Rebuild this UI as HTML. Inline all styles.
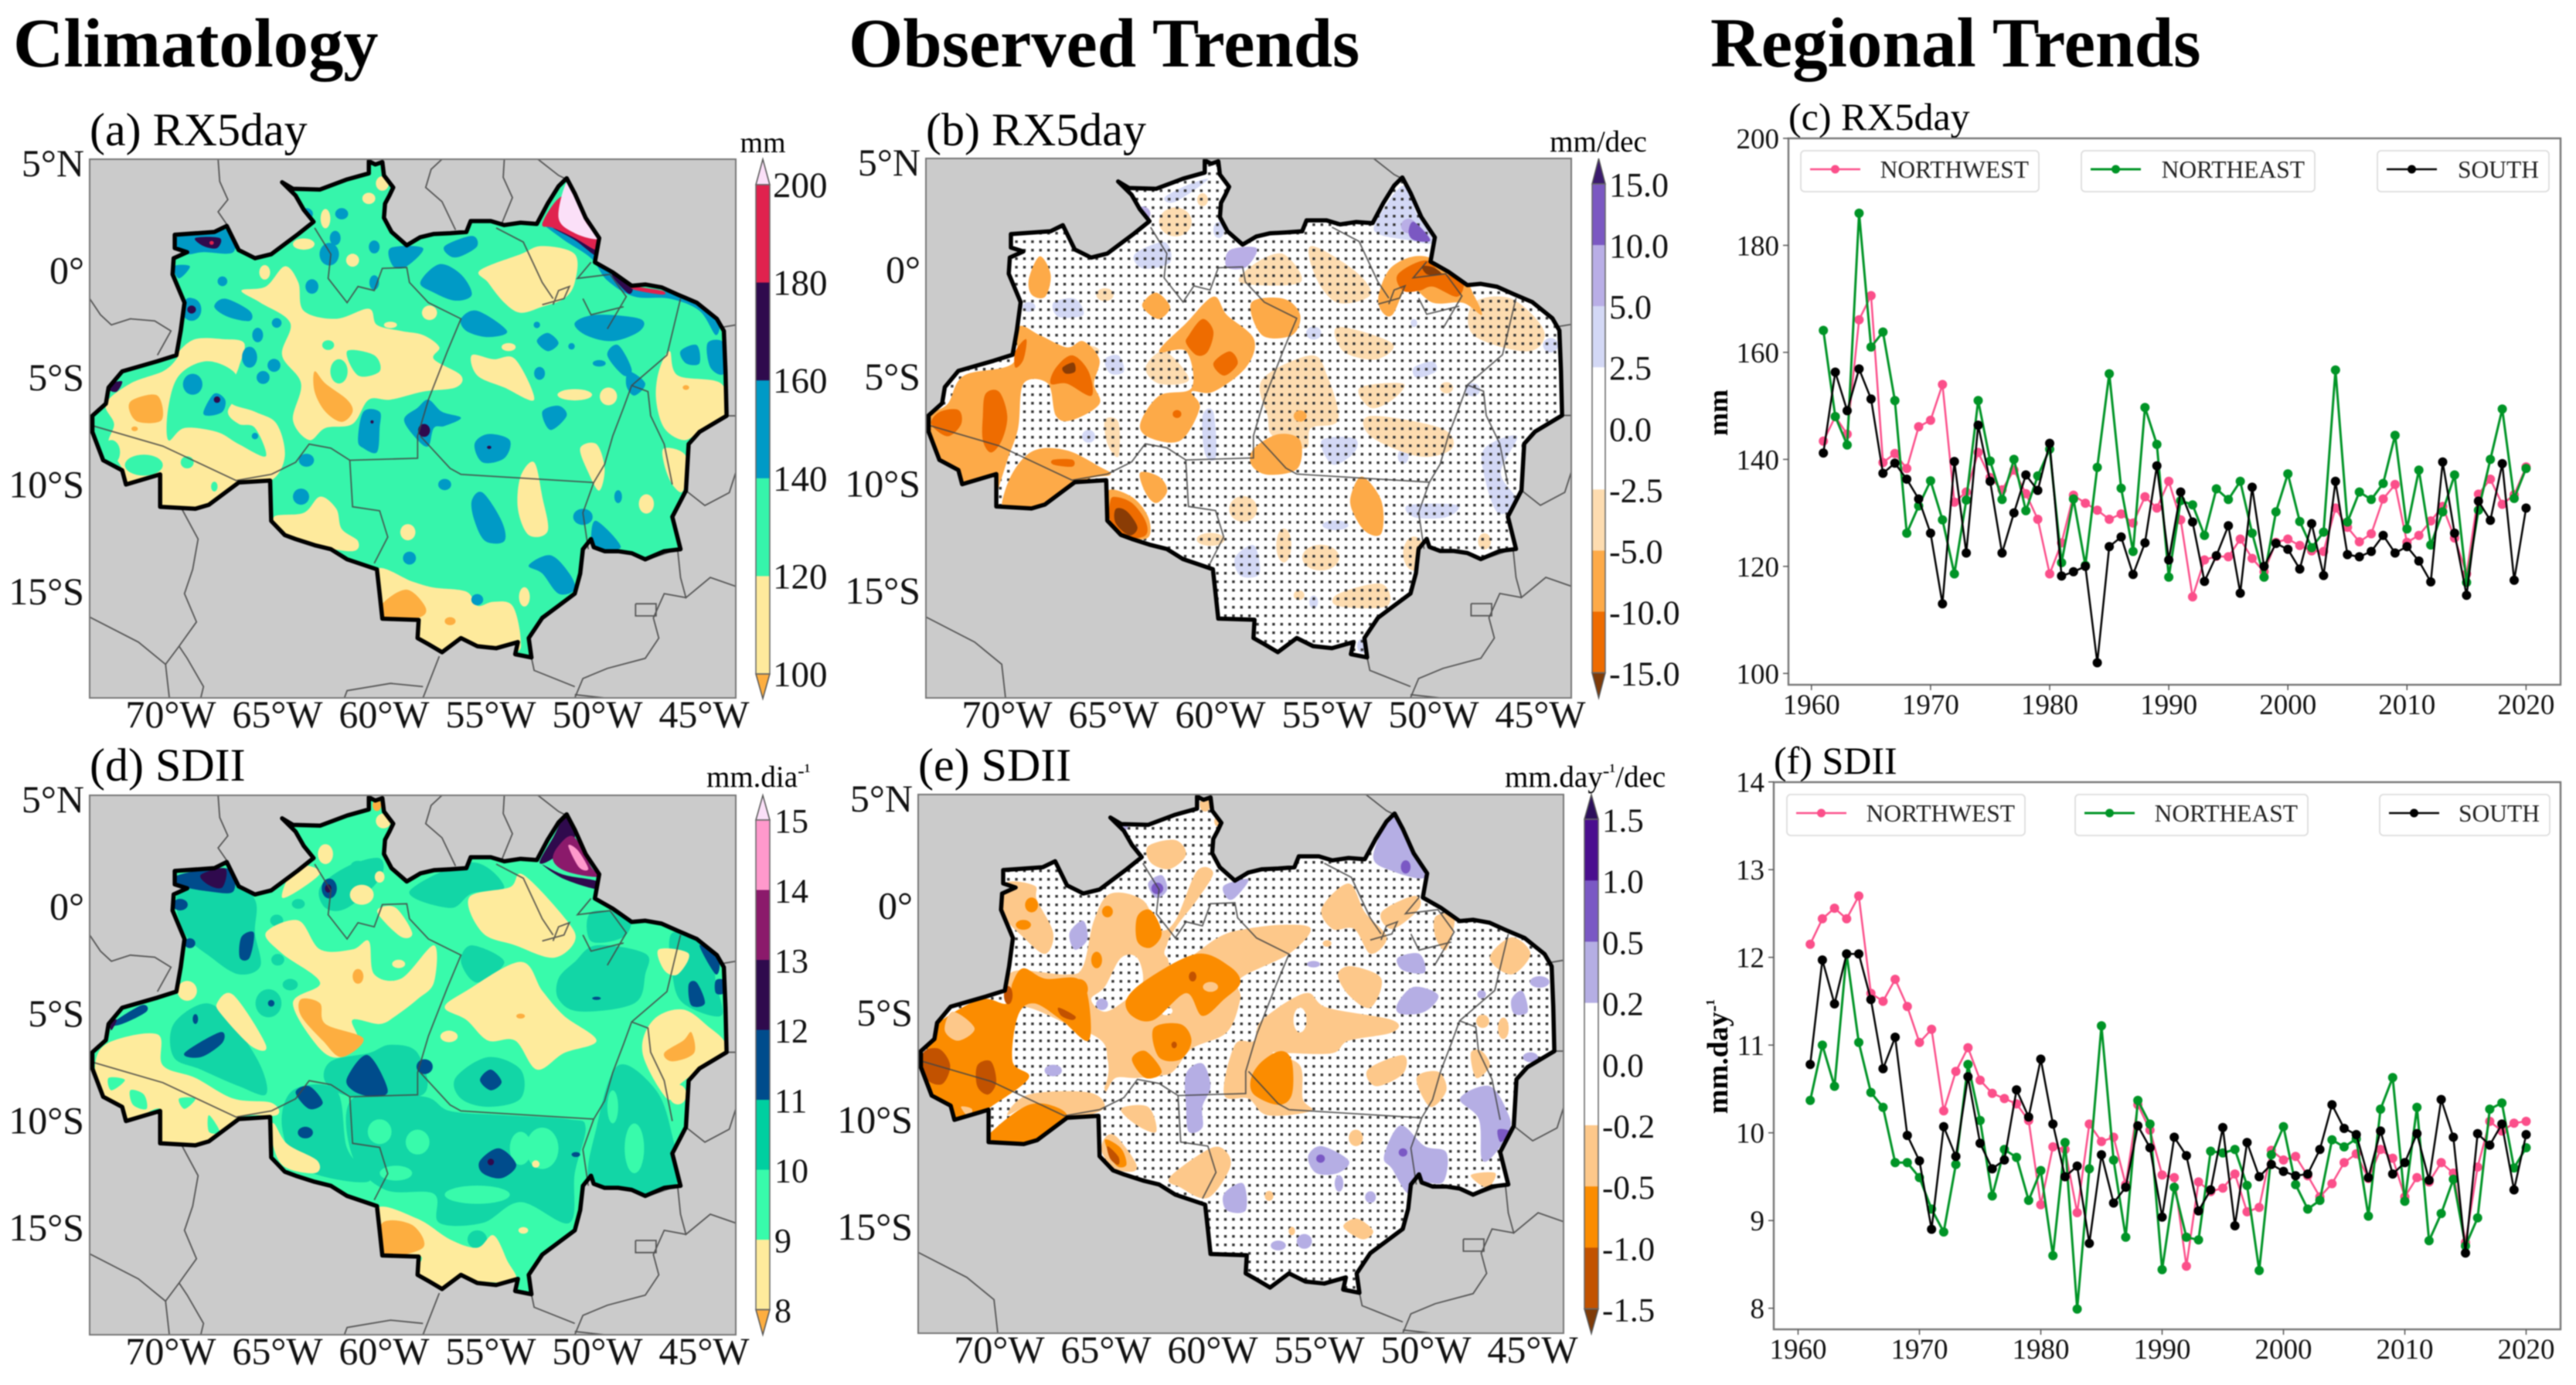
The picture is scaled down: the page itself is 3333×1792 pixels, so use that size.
<!DOCTYPE html>
<html lang="en">
<head>
<meta charset="utf-8">
<title>Climatology, observed trends and regional trends</title>
<style>
html,body{margin:0;padding:0;background:#fff;}
svg{display:block;font-family:"Liberation Serif",serif;filter:blur(0.7px);}
</style>
</head>
<body>
<svg id="figure" xmlns="http://www.w3.org/2000/svg" width="3333" height="1792" viewBox="0 0 3333 1792">
<defs>
<pattern id="stipple" patternUnits="userSpaceOnUse" width="10.4" height="11"><rect x="3" y="3" width="3.4" height="3.4" fill="#333"/></pattern>
<pattern id="stippleWhite" patternUnits="userSpaceOnUse" width="10.4" height="11"><rect width="10.4" height="11" fill="#fff"/><rect x="3" y="3" width="3.4" height="3.4" fill="#333"/></pattern>
</defs>
<rect width="3333" height="1792" fill="#fff"/>
<text x="17" y="86" font-size="90.5" font-weight="bold">Climatology</text>
<text x="1098" y="86" font-size="90.5" font-weight="bold">Observed Trends</text>
<text x="2213" y="86" font-size="91" font-weight="bold">Regional Trends</text>
<text x="116" y="188" font-size="60">(a) RX5day</text>
<text x="1198" y="188" font-size="60">(b) RX5day</text>
<text x="116" y="1010" font-size="60">(d) SDII</text>
<text x="1188" y="1010" font-size="60">(e) SDII</text>
<text x="2314" y="168" font-size="50">(c) RX5day</text>
<text x="2295" y="1001" font-size="50">(f) SDII</text>
<text x="987" y="197" font-size="38" text-anchor="middle">mm</text>
<text x="2068" y="196" font-size="39" text-anchor="middle">mm/dec</text>
<text x="914" y="1018" font-size="39">mm.dia<tspan font-size="26" dy="-12">-¹</tspan></text>
<text x="1947" y="1018" font-size="39">mm.day<tspan font-size="26" dy="-12">-¹</tspan><tspan dy="12">/dec</tspan></text>
<text transform="translate(2235,534) rotate(-90)" font-size="36" font-weight="bold" text-anchor="middle">mm</text>
<text transform="translate(2235,1367) rotate(-90)" font-size="38" font-weight="bold" text-anchor="middle">mm.day<tspan font-size="26" dy="-10">-¹</tspan></text>
</svg>
<script>
/* ---------- line chart data ---------- */
const years=[1961,1962,1963,1964,1965,1966,1967,1968,1969,1970,1971,1972,1973,1974,1975,1976,1977,1978,1979,1980,1981,1982,1983,1984,1985,1986,1987,1988,1989,1990,1991,1992,1993,1994,1995,1996,1997,1998,1999,2000,2001,2002,2003,2004,2005,2006,2007,2008,2009,2010,2011,2012,2013,2014,2015,2016,2017,2018,2019,2020];
const xTickLabels=[1960,1970,1980,1990,2000,2010,2020];
const rxTickLabels=[100,120,140,160,180,200];
const sdiiTickLabels=[8,9,10,11,12,13,14];
const seriesNames=['NORTHWEST','NORTHEAST','SOUTH'];
const rxNorthwest=[143.4,148,144.7,166.1,170.6,139.4,141.1,138.3,146.1,147.3,154,132,133.9,141.3,136.6,134.3,138,133.6,128.8,118.6,124.4,133.3,131.8,130.5,128.8,129.8,128.1,133,130.9,135.9,128.7,114.3,121.2,121.9,121.8,125.1,121.5,119,124.5,125.1,123.9,122.9,122.8,130.9,127.3,124.6,126.1,132.6,135.3,124.5,125.8,128.5,131.2,125.3,118.6,133.5,136.3,131.6,133.4,138.6];
const rxNortheast=[164.1,148,142.7,186,161,163.8,151,126.2,131.3,136,128.7,118.6,132.4,151,139.7,132.5,140,130.4,136.9,141.9,120.7,132.6,120.2,138.5,156,134.6,122.8,149.7,142.8,118,132.3,131.5,125.8,134.5,132.5,135.9,126.2,118,130.2,137.3,128.4,123.5,126.4,156.7,128.3,133.9,132.5,135.5,144.5,127,138,124,130.2,137.1,117,130.5,140,149.4,132.7,138.3];
const rxSouth=[141.2,156.3,149.1,156.9,151.3,137.4,139.3,136.3,132.6,126.2,113,139.6,122.5,146.4,135.9,122.5,130,137.1,134.2,143,118.2,119,120,102,123.7,125.5,118.5,124.4,138.8,121.2,133.9,128.3,117.2,122,127.6,115,134.8,120,124.3,123.2,119.5,128,118.3,135.9,122.2,121.8,122.8,125.8,122.5,123.7,121,117.1,139.5,126.2,114.6,132.2,128.6,139.2,117.4,130.9];
const sdiiNorthwest=[12.15,12.44,12.56,12.44,12.7,11.59,11.5,11.75,11.44,11.03,11.18,10.25,10.7,10.97,10.6,10.45,10.39,10.33,10.14,9.18,9.84,9.81,9.09,10.1,9.9,9.95,9.41,10.32,10.03,9.52,9.49,8.48,9.44,9.33,9.37,9.53,9.1,9.15,9.8,9.69,9.73,9.51,9.27,9.42,9.66,9.76,9.48,9.81,9.71,9.27,9.49,9.44,9.66,9.54,8.75,9.61,10.13,10.02,10.11,10.13];
const sdiiNortheast=[10.37,11,10.53,12.04,11.03,10.46,10.29,9.66,9.66,9.49,9.13,8.87,9.64,10.78,10.14,9.28,9.81,9.72,9.23,9.57,8.6,9.89,7.99,9.59,11.22,9.69,8.81,10.37,10.1,8.44,9.38,8.81,8.78,9.79,9.77,9.81,9.4,8.43,9.75,10.07,9.41,9.13,9.23,9.92,9.84,9.93,9.05,10.27,10.63,9.22,10.29,8.77,9.08,9.47,8.71,9.03,10.27,10.34,9.6,9.83];
const sdiiSouth=[10.78,11.97,11.47,12.04,12.04,11.52,10.73,11.09,9.97,9.68,8.9,10.07,9.73,10.64,9.88,9.59,9.69,10.49,10.18,10.84,10.1,9.5,9.62,8.74,9.75,9.2,9.38,10.08,9.83,9.04,9.95,9.74,9.11,9.35,10.06,8.94,9.89,9.5,9.64,9.56,9.51,9.53,9.81,10.32,10.05,9.98,9.49,10.02,9.53,9.66,9.99,9.46,10.38,9.95,8.63,9.99,9.86,10.1,9.35,9.98];

/* ---------- colour bar levels ---------- */
const levelsA=['200','180','160','140','120','100'];
const levelsB=['15.0','10.0','5.0','2.5','0.0','-2.5','-5.0','-10.0','-15.0'];
const levelsD=['15','14','13','12','11','10','9','8'];
const levelsE=['1.5','1.0','0.5','0.2','0.0','-0.2','-0.5','-1.0','-1.5'];
const swatchesA=['#fbe0f8','#e0224e','#2f0a4d','#009ac6','#36f5ab','#feea9c','#fdae40'];
const swatchesB=['#3b1a6e','#7b58c2','#b9aee6','#d3d8f5','#ffffff','#ffffff','#fddcb0','#fdaa48','#ee6c00','#7f3b08'];
const swatchesD=['#fbe0f8','#ff99cc','#8b1a6b','#2f0a4d','#004c8c','#00cfa0','#38fbab','#feeb9c','#fdae40'];
const swatchesE=['#2d0f5c','#4a0e8f','#7a58c4','#b5aee4','#ffffff','#ffffff','#fdc88a','#fb8c00','#c25200','#7f3b08'];

/* ---------- map geography (map-grid units) ---------- */
const latLabels=[['5°N',5],['0°',0],['5°S',-5],['10°S',-10],['15°S',-15]];
const lonLabels=[['70°W',-70],['65°W',-65],['60°W',-60],['55°W',-55],['50°W',-50],['45°W',-45]];
const amazonOutline=[680,170,692,178,705,172,708,205,725,235,718,255,710,275,708,310,722,345,750,378,775,358,800,350,830,348,860,345,868,318,905,318,930,328,960,322,990,325,1010,275,1030,232,1045,212,1060,250,1080,310,1105,360,1097,420,1130,445,1165,478,1190,475,1220,482,1250,500,1285,520,1322,560,1335,590,1338,690,1340,800,1290,840,1270,870,1265,985,1240,1050,1255,1130,1225,1135,1190,1155,1165,1140,1140,1135,1115,1135,1095,1125,1090,1105,1075,1130,1070,1190,1060,1240,1030,1270,1000,1300,975,1350,980,1398,950,1390,955,1360,915,1375,880,1370,850,1350,815,1385,790,1365,770,1350,772,1305,705,1302,700,1240,695,1180,640,1155,610,1130,580,1120,545,1105,525,1095,500,1060,498,960,440,965,385,1020,360,1030,295,1025,295,945,232,970,225,935,190,910,170,840,170,800,195,770,200,730,225,690,290,665,325,650,333,590,340,520,318,450,320,410,345,395,322,385,322,352,395,345,418,330,440,390,470,410,500,400,550,350,578,320,560,290,545,255,520,222,540,238,590,240,640,215,680,200];
const bordersAll=[[992,165,1030,205,1045,215],[165,1298,255,1360,305,1415,312,1498],[1357,575,1335,580],[1340,800,1357,800],[1357,940,1345,990,1300,1022,1265,985],[1250,1135,1255,1200,1265,1250,1310,1200,1357,1222],[1195,1155,1250,1130],[1265,1250,1225,1240,1205,1300,1215,1350,1190,1400,1120,1425,1075,1450,1060,1498],[980,1398,985,1430,1060,1470],[1172,1265,1210,1265,1210,1295,1172,1295,1172,1265],[1060,1490,1115,1498]];
const bordersClimatology=[[402,165,405,220,420,265,402,295,420,330],[815,165,795,190,785,235,815,270,840,340],[930,165,928,210,945,260,925,325],[165,510,185,550,205,575,240,560,285,565,315,590,290,650],[335,1030,365,1105,355,1180,340,1240,362,1310,330,1370,305,1415],[330,1370,345,1400,375,1470,370,1498],[810,1395,780,1498],[635,1498,640,1480,720,1462,780,1470]];
const stateLines=[[172,825,300,875,435,960,500,945],[580,335,610,400,605,460,640,520,660,480,690,490,705,435,750,433,755,470,790,520,850,560,825,640,790,760,770,850,770,905,645,910,610,880,570,870,545,915,500,945],[645,910,650,1025,700,1035,715,1100,690,1165],[775,850,830,930,850,945,1095,965,1115,920,1130,850,1150,780,1165,725,1230,650,1255,510],[1095,965,1075,1040,1085,1130],[1165,725,1195,740,1200,800,1225,870,1240,970],[915,335,965,370,1000,470,1020,510],[1000,525,1040,510,1050,480,1030,490,1020,525],[1090,420,1065,460,1125,450,1155,505,1120,585],[1075,510,1090,550,1150,530]];

/* contour layers, grid units of each panel: [colour, blobs, spots] */
const layersA=[
['#feea9c',[[445,490,490,480,525,430,550,470,560,540,620,560,680,535,695,575,740,590,780,600,810,630,800,660,850,700,840,730,780,740,720,760,680,760,650,820,600,830,570,860,540,810,555,720,520,650,535,570,480,520],
[330,640,360,610,410,610,450,620,440,680,420,760,470,790,510,820,525,900,500,960,440,965,385,1020,300,1025,295,945,235,970,225,930,200,870,210,820,195,770,240,720,300,690,325,660],
[885,440,960,400,1000,380,1060,400,1060,470,1040,510,1000,530,960,545,930,520,900,470],
[870,650,910,660,950,660,985,760,930,730,880,700],
[695,1180,760,1210,800,1225,860,1235,880,1270,910,1260,945,1270,960,1350,950,1385,880,1370,850,1350,815,1385,770,1350,772,1305,705,1302],
[505,1050,560,1040,590,1000,620,1030,630,1080,660,1110,650,1135,580,1120,525,1095],
[1215,690,1235,640,1250,700,1330,720,1340,800,1290,840,1260,860,1225,830,1210,760],
[1225,880,1265,900,1260,985,1240,970,1225,920],
[960,950,985,915,1000,1000,1010,1085,975,1095,955,1030],
[1070,880,1100,870,1115,930,1105,985,1085,940]],
[[1060,748,32,14],[1122,752,16,22],[792,545,14,18],[488,445,10,18],[600,312,9,24],[650,415,12,16],[720,575,12,8],[752,1088,14,20],[967,1248,10,24],[1192,1018,14,24],[938,630,13,10],[680,262,12,14],[560,375,20,14],[705,225,12,18]]],
['#36f5ab',[[310,860,310,780,330,700,380,665,430,690,440,740,420,790,440,820,470,830,490,900,440,870,400,840,340,830],[640,640,690,650,700,690,660,700]],
[[205,890,16,30],[265,922,35,26],[345,915,12,15],[625,690,16,30],[605,625,11,12],[395,975,6,12]]],
['#fdae40',[[245,760,290,750,298,810,255,815,238,785],[580,690,600,720,640,760,650,790,630,815,600,790,580,740],[705,1265,750,1230,785,1275,770,1300,705,1300]],
[[830,1308,10,10],[248,832,6,6],[1265,730,6,6]]],
['#009ac6',[[775,470,810,425,850,450,870,500,840,515,800,495],[820,380,870,355,880,380,850,405,830,405],[720,385,780,385,750,430,725,430],[850,560,880,540,935,590,900,605,860,590],[1060,570,1100,550,1180,560,1180,590,1130,615,1080,600],[990,615,1010,595,1030,620,1010,640],[1000,790,1030,775,1045,800,1015,835],[875,870,900,845,940,860,930,905,890,915],[770,780,790,760,815,790,850,805,820,825,800,830,790,875,770,860,745,810],[660,860,670,790,700,790,700,830,695,890,670,880],[375,790,395,745,415,760,410,790,385,800],[395,530,415,510,460,540,460,565,420,555],[1120,650,1140,625,1165,685,1150,700],[1255,640,1285,625,1290,670,1265,670],[1305,620,1335,620,1335,695,1310,680],[975,1170,1015,1145,1050,1190,1060,1230,1030,1240,1000,1190],[870,1010,890,990,925,1060,930,1110,895,1110,875,1060],[1090,1100,1100,1060,1145,1125,1095,1125],[330,355,420,340,430,395,375,395,345,400,325,385],[320,430,350,430,330,460],[1000,322,1050,345,1105,385,1097,420,1130,445,1165,478,1220,490,1285,520,1325,560,1320,600,1290,540,1235,510,1170,505,1120,465,1090,410,1040,365],[1160,690,1190,720,1170,750,1155,725]],
[[353,537,18,28],[607,400,18,28],[618,360,10,18],[630,300,12,14],[575,480,12,18],[410,467,9,12],[510,570,9,12],[475,600,10,18],[460,655,14,26],[505,675,12,16],[485,705,12,16],[355,722,18,26],[995,695,10,16],[1105,670,12,8],[1140,1000,7,16],[1075,1050,18,20],[555,1000,15,20],[755,1152,12,16],[820,970,12,14],[880,1255,11,14],[565,910,14,16],[565,300,12,14],[690,382,10,16],[350,520,10,12],[690,470,9,18],[470,850,6,8],[990,575,6,8],[1054,628,6,8]]],
['#2f0a4d',[[360,360,405,360,400,385,375,380],[205,720,225,715,215,740,200,735],[1020,335,1060,350,1105,385,1100,405,1060,365],[1130,448,1165,478,1160,498,1135,465]],
[[782,836,11,16],[353,537,8,10],[400,760,6,8],[902,878,4,4],[686,815,3,4]]],
['#e0224e',[[1030,262,1060,260,1085,320,1105,368,1100,390,1060,360,1020,335,1000,325],[1148,465,1165,478,1220,490,1222,500,1175,490,1160,480]],[[390,372,4,5]]],
['#fbe0f8',[[1045,222,1060,260,1080,320,1103,362,1060,348,1030,310]],[]]
];
const layersB=[
['#d3d8f5',[[375,520,415,510,430,550,385,555],[470,660,495,650,505,690,480,695],[650,800,670,790,675,900,655,895],[870,860,930,855,930,890,890,920],[1040,680,1075,665,1080,690,1045,705],[1170,880,1230,850,1200,940,1230,1010,1195,1040,1170,950],[1030,1020,1120,1020,1100,1050,1040,1050],[710,1150,745,1120,755,1190,720,1195],[525,400,580,370,590,420,540,435],[580,260,620,230,660,215,600,270],[970,320,1020,230,1045,300,1075,370,1030,365,975,350]],
[[1292,625,14,18],[1148,735,14,16],[895,1070,24,12],[855,1260,8,16],[945,1368,10,18],[855,595,14,16],[1020,900,10,18],[440,850,12,16],[330,530,12,12],[680,340,10,20],[1040,570,6,10]]],
['#fddcb0',[[1150,520,1220,510,1280,590,1250,640,1150,600],[750,420,800,400,830,470,720,470],[850,380,930,440,960,500,900,520,860,460],[760,710,850,650,880,700,900,810,850,830,840,880,780,850,770,800],[960,800,1090,830,1110,880,1050,900,960,850],[900,580,1000,620,970,660,910,640],[900,1240,980,1215,990,1270,900,1270],[545,680,580,640,625,710,570,720],[205,895,245,895,245,960,205,960],[470,810,495,815,495,900,475,870],[940,730,1020,720,1000,760,960,780]],
[[800,1120,14,42],[725,1030,26,32],[665,1105,26,16],[868,1150,34,32],[1040,1140,20,42],[600,320,30,36],[828,1243,10,12],[1170,1110,12,20],[1100,730,12,14],[440,640,20,14],[650,265,10,16],[470,500,16,16]]]
];
const layersBOver=[
['#b9aee6',[[700,390,750,385,730,432,695,432]],[[540,300,14,18],[1030,330,14,18]]],
['#7b58c2',[[1030,345,1040,320,1070,365,1040,365]],[]],
['#fdaa48',[[180,770,210,700,300,670,310,580,350,600,400,630,430,615,460,660,450,720,460,770,410,810,380,800,365,720,320,720,310,830,290,910,270,1000,275,1020,265,1025,262,960,205,965,200,935,170,915,150,860,145,800],
[300,940,340,885,400,885,460,925,480,945,430,960,360,1030,300,1025,280,1020],
[475,985,520,1000,550,1050,550,1100,510,1100,480,1060],
[620,570,670,505,695,550,745,610,730,680,670,740,630,740,645,780,610,860,555,855,535,820,570,750,630,730,620,640,570,640],
[740,520,800,510,830,550,815,600,760,600],[745,880,790,845,830,860,825,930,770,945,740,920],[925,990,945,950,980,1010,980,1090,950,1085,925,1030],[540,520,565,495,590,530,570,560,545,540],[330,460,350,405,370,450,360,505,335,500],[535,940,570,950,585,985,565,1015,545,990],[975,500,1000,430,1060,405,1130,460,1150,500,1165,550,1130,520,1075,520,1030,480,1000,550,980,540]],[[830,800,12,14]]],
['#ee6c00',[[165,790,200,785,205,820,180,850,150,820],[250,745,275,740,290,800,280,860,260,890,245,860,245,800],[380,680,410,650,440,690,445,750,400,720,370,720],[305,640,325,610,320,660,305,680],[625,600,650,560,670,590,660,640,640,650,620,620],[670,670,700,640,715,670,690,700],[1010,450,1060,415,1090,445,1130,465,1120,505,1075,480,1050,490,1020,490],[480,1010,490,1000,520,1015,545,1060,545,1095,510,1100,480,1060],[375,908,410,908,410,925,375,920]],[[603,795,8,10]]],
['#8a3c05',[[392,680,412,668,415,690,398,695],[490,1030,510,1035,530,1075,515,1095,490,1065],[1055,430,1075,432,1090,448,1065,450]],[]]
];
const layersD=[
['#12d6a6',[[330,380,420,350,470,400,470,480,480,560,440,580,390,540,340,480],[320,700,380,650,430,700,480,800,490,870,440,850,370,810,320,780],[650,880,780,875,830,910,930,920,1050,930,1080,950,1060,1060,1050,1180,960,1130,890,1180,810,1180,800,1110,710,1100,650,1020],[610,790,680,770,720,750,770,770,780,870,650,875,600,840],[840,830,900,780,960,810,960,880,900,900,850,880],[1030,590,1060,550,1100,510,1190,530,1190,580,1170,650,1070,670,1030,640],[540,860,620,860,640,1000,680,1080,560,1050,520,950],[1100,950,1140,800,1210,860,1240,970,1250,1080,1190,1110,1090,1090],[850,550,870,510,930,550,880,600],[755,380,870,310,930,370,870,385,830,420],[1090,430,1160,440,1150,490,1090,500],[1240,480,1310,520,1320,600,1330,680,1260,650,1240,580],[590,370,640,320,700,300,700,350,640,420,600,420]],[[660,320,14,14],[550,410,12,12],[510,450,12,14],[512,545,12,14],[535,605,14,14],[495,650,24,34],[880,1220,18,22],[770,980,16,20]]],
['#38fbab',[],[[770,985,22,30],[1000,1000,30,50],[730,1060,30,18],[880,1112,60,22],[960,1000,20,40],[1170,1000,18,60],[1130,900,10,40],[700,960,22,30]]],
['#feeb9c',[[860,620,960,550,1000,620,1040,680,1100,740,1040,770,990,810,950,740,900,740,860,690,820,660],[865,395,940,370,965,340,1045,450,1060,500,1020,540,950,510,890,480],[175,800,200,745,290,725,300,800,360,830,430,880,500,890,510,920,440,925,380,990,295,990,295,905,232,935,190,880],[490,480,550,450,590,520,650,520,680,500,690,580,740,590,800,510,800,600,770,640,730,680,700,700,650,690,660,740,630,780,590,760,540,650,590,600,520,530],[400,650,430,630,490,750,465,755,410,680],[695,1145,770,1170,830,1220,880,1240,910,1210,935,1270,950,1320,880,1320,850,1305,815,1340,770,1300,775,1260,705,1260],[1205,690,1260,665,1310,710,1335,740,1340,770,1290,810,1250,850,1230,880,1185,770],[505,940,530,990,585,1030,580,1060,520,1040,498,960],[545,320,590,330,570,360,520,395],[700,420,730,420,760,480,740,490,700,440],[1215,520,1270,530,1250,580,1225,570]],[[600,290,14,24],[667,388,22,24],[345,620,18,24],[828,730,16,14],[700,345,9,14],[707,210,14,18],[988,1038,7,9],[965,1198,9,8],[1250,870,16,24],[262,760,26,24],[735,555,12,10]]],
['#38fbab',[[240,860,265,870,270,905,245,895],[330,880,360,880,340,905],[200,830,230,835,205,860],[385,920,405,960,385,960]],[]],
['#fdae40',[[555,640,590,650,600,700,670,735,630,780,595,740,555,680],[705,1180,760,1185,780,1240,705,1258],[1225,770,1260,740,1275,720,1280,770,1240,790]],[[660,585,10,18],[960,681,8,6],[695,172,8,14]]],
['#004c8c',[[640,830,678,775,715,860,685,875,650,860],[340,770,405,720,410,745,370,780],[885,835,905,810,925,840,905,860],[885,1030,920,1000,952,1040,925,1072,890,1060],[545,865,570,850,595,890,570,905],[330,340,420,325,430,380,385,380,330,365],[1270,605,1285,600,1300,650,1275,655],[1290,510,1325,545,1320,580],[205,700,260,655,270,670,225,700],[445,490,468,480,460,540,442,540],[1320,595,1335,595,1335,625,1320,625]],[[783,803,15,18],[563,962,14,14],[607,373,14,24],[500,650,6,8],[360,688,5,12],[350,505,10,12],[332,412,14,14],[1100,638,8,4],[1062,1015,8,6]]],
['#2f0a4d',[[370,340,415,325,410,370,385,365],[1000,315,1040,340,1100,355,1102,375,1040,350],[1020,250,1045,195,1060,250,1020,300,995,310],[203,695,215,690,205,715]],[[905,1033,6,8],[605,373,6,10]]],
['#8b1a6b',[[1030,270,1058,248,1090,320,1103,345,1045,332,1020,305]],[]],
['#ff99cc',[[1048,270,1065,280,1085,325,1068,322]],[]]
];
const layersE=[
['#fdc88a',[[285,360,340,365,345,400,375,480,360,530,320,490,280,430],
[450,450,480,385,540,400,570,470,600,450,640,330,670,335,640,400,610,450,590,490,585,520,600,560,680,490,730,470,800,460,850,470,810,530,720,590,720,640,695,720,630,760,590,820,530,830,490,830,470,860,470,750,400,700,330,660,300,670,290,600,310,570,400,580,430,560],
[760,690,840,625,880,660,1000,690,1000,720,920,740,890,770,810,770,780,770,830,800,835,880,850,910,770,920,735,880,690,870,710,750,745,740],
[870,420,920,360,950,430,990,490,960,530,930,470,890,470],[980,430,1040,390,1050,420,1000,470],[1080,440,1115,440,1100,520,1080,490],[900,580,925,560,980,590,960,660,920,630],[955,810,1020,775,1020,820,970,850],[1045,830,1085,815,1100,860,1070,900],[590,1070,665,1000,695,1010,700,1050,660,1120,610,1095],[910,1190,935,1170,965,1200,945,1220],[1180,540,1220,490,1255,530,1220,580],[500,905,550,900,565,960,530,945],[1145,770,1165,765,1180,800,1155,830],[1145,1065,1190,1060,1175,1095],[550,270,600,255,620,290,590,325,555,310],[470,975,490,970,525,1030,525,1055,490,1050,465,1010],[330,870,440,865,470,900,430,925,400,930,340,895,290,920],[190,670,230,710,200,740,175,715]],
[[1167,693,12,16],[1205,710,10,26],[933,975,13,20],[773,1115,8,12],[815,1200,6,10],[880,505,8,8],[655,170,10,16],[678,210,6,12]]],
['url(#stippleWhite)',[[500,540,530,540,540,600,510,640,470,670,445,640,470,610],[300,670,340,665,400,720,470,770,470,850,430,860,330,830,305,790],[600,490,640,510,610,550,580,530]],[[830,690,12,30],[583,668,12,10],[600,835,40,14]]],
['#b5aee4',[[405,480,430,450,438,495,415,520],[620,820,650,795,665,850,650,900,650,950,625,960,620,900],[1125,880,1180,850,1215,920,1215,960,1185,1020,1165,1025,1160,930],[985,1020,1015,945,1060,995,1100,1010,1095,1080,1060,1085,1030,1110,1000,1050],[845,1020,870,995,920,1030,900,1060,860,1060],[690,1110,725,1085,730,1150,695,1150],[1010,540,1050,530,1060,575,1020,570],[1010,650,1040,610,1085,630,1060,670,1015,675],[1220,640,1240,620,1250,670,1225,675],[965,295,1000,200,1030,270,1060,345,1000,330],[690,365,735,350,710,395,695,395],[550,360,575,340,585,375,565,395]],
[[838,1225,14,18],[375,812,16,14],[465,652,11,14],[1272,598,18,14],[1255,780,14,12],[1165,628,8,10],[960,1118,10,14],[902,1085,8,20],[790,1235,14,12],[525,282,8,12],[505,222,8,10],[855,555,12,8]]],
['#7a58c4',[[1195,955,1218,960,1200,985]],[[567,372,11,14],[868,1025,8,10],[1020,1010,8,10],[1025,320,9,16]]],
['#fb8c00',[[160,700,240,640,290,650,300,600,320,565,360,590,420,590,440,640,440,740,390,690,340,650,310,680,300,790,330,830,260,900,220,935,190,930,150,880,130,810,150,740],[270,950,330,895,380,900,400,930,350,985,260,980],[550,590,640,530,700,560,720,600,690,640,650,680,620,625,560,690,520,680,510,640],[560,710,610,700,630,740,610,785,570,780],[520,785,545,765,575,815,545,830],[530,440,555,425,575,480,555,515,530,500],[760,790,795,765,815,790,815,870,790,895,745,870,740,830],[470,980,500,1000,510,1040,490,1040]],[[475,428,10,14],[455,545,10,20],[423,615,16,24],[335,412,12,18],[320,460,14,12]]],
['#fdc88a',[[190,670,230,710,200,740,175,715],[205,900,225,905,220,925]],[[665,610,14,12]]],
['#c25200',[[135,770,165,760,185,800,170,845,140,830],[235,800,260,790,270,840,255,870,235,850],[385,660,415,680,410,690,390,680],[475,995,495,1020,495,1040,480,1025]],[[632,585,7,12],[292,630,8,22],[598,750,5,8]]]
];

/* ---------- panels ---------- */
const boxA={x:116,y:206,w:836,h:697};
const boxB={x:1198,y:205,w:835,h:698};
const boxD={x:116,y:1029,w:836,h:698};
const boxE={x:1188,y:1028,w:835,h:697};
const gridOutline={x0:165,x1:1357,y0:165,y1:1498};
const gridA=gridOutline;
const gridB={x0:140,x1:1330,y0:163,y1:1497};
const gridD={x0:165,x1:1357,y0:148,y1:1450};
const gridE={x0:126,x1:1316,y0:145,y1:1447};

const NS='http://www.w3.org/2000/svg';
const fig=document.getElementById('figure');
function make(tag,attrs,parent){
  const el=document.createElementNS(NS,tag);
  for(const k in attrs)el.setAttribute(k,attrs[k]);
  (parent||fig).appendChild(el);
  return el;
}
function gridPoints(flat,box,grid){
  const pts=[];
  for(let i=0;i<flat.length;i+=2){
    pts.push([box.x+(flat[i]-grid.x0)*box.w/(grid.x1-grid.x0),box.y+(flat[i+1]-grid.y0)*box.h/(grid.y1-grid.y0)]);
  }
  return pts;
}
function polyline(pts,closed){
  return 'M'+pts.map(p=>p[0].toFixed(1)+' '+p[1].toFixed(1)).join('L')+(closed?'Z':'');
}
function smoothClosed(pts){
  const n=pts.length;
  let d='M'+pts[0][0].toFixed(1)+' '+pts[0][1].toFixed(1);
  for(let i=0;i<n;i++){
    const p0=pts[(i-1+n)%n],p1=pts[i],p2=pts[(i+1)%n],p3=pts[(i+2)%n];
    d+='C'+(p1[0]+(p2[0]-p0[0])/6).toFixed(1)+' '+(p1[1]+(p2[1]-p0[1])/6).toFixed(1)+' '+(p2[0]-(p3[0]-p1[0])/6).toFixed(1)+' '+(p2[1]-(p3[1]-p1[1])/6).toFixed(1)+' '+p2[0].toFixed(1)+' '+p2[1].toFixed(1);
  }
  return d+'Z';
}
function drawLayers(layers,group,box,grid,key){
  layers.forEach(function(layer){
    layer[1].forEach(function(blob){
      const patch=make('path',{d:smoothClosed(gridPoints(blob,box,grid)),fill:layer[0]},group);
      
      
    });
    layer[2].forEach(function(s){
      if(!s[2]||!s[3])return;
      const c=gridPoints([s[0],s[1]],box,grid)[0];
      const spot=make('ellipse',{cx:c[0].toFixed(1),cy:c[1].toFixed(1),rx:(s[2]*box.w/(grid.x1-grid.x0)).toFixed(1),ry:(s[3]*box.h/(grid.y1-grid.y0)).toFixed(1),fill:layer[0]},group);
      
      
    });
  });
}
function drawMap(key,box,grid,base,below,stippled,above,extraBorders){
  const bg=make('rect',{x:box.x,y:box.y,width:box.w,height:box.h,fill:'#cbcbcb'});
  
  
  const cp=make('clipPath',{id:'box-'+key});
  make('rect',{x:box.x,y:box.y,width:box.w,height:box.h},cp);
  const cp2=make('clipPath',{id:'outline-'+key});
  const outlineD=polyline(gridPoints(amazonOutline,box,gridOutline),true);
  make('path',{d:outlineD},cp2);
  const borderGroup=make('g',{'clip-path':'url(#box-'+key+')',fill:'none',stroke:'#555',"stroke-width":1.8});
  bordersAll.concat(extraBorders).forEach(function(line){
    const b=make('path',{d:polyline(gridPoints(line,box,gridOutline),false)},borderGroup);
    
    
  });
  const region=make('path',{d:outlineD,fill:base});
  
  
  const inside=make('g',{'clip-path':'url(#outline-'+key+')'});
  drawLayers(below,inside,box,grid,key);
  if(stippled){
    const dots=make('rect',{x:box.x,y:box.y,width:box.w,height:box.h,fill:'url(#stipple)'},inside);
    
    
  }
  drawLayers(above,inside,box,grid,key);
  const states=make('g',{fill:'none',stroke:'#444',"stroke-width":1.8,opacity:0.85});
  stateLines.forEach(function(line){
    const s=make('path',{d:polyline(gridPoints(line,box,gridOutline),false)},states);
    
    
  });
  const edge=make('path',{d:outlineD,fill:'none',stroke:'#000',"stroke-width":5.5,"stroke-linejoin":'round'});
  
  
  const frame=make('rect',{x:box.x,y:box.y,width:box.w,height:box.h,fill:'none',stroke:'#777',"stroke-width":2});
  
  
  const lonX=lon=>box.x+105+(lon+70)*27.6;
  const latY=lat=>box.y+5+(5-lat)*27.7;
  lonLabels.forEach(function(t){
    const lab=make('text',{x:lonX(t[1]),y:box.y+box.h+38,"font-size":50,"text-anchor":'middle',fill:'#111'});
    lab.textContent=t[0];
    
    
  });
  latLabels.forEach(function(t){
    const lab=make('text',{x:box.x-7,y:latY(t[1])+17,"font-size":50,"text-anchor":'end',fill:'#111'});
    lab.textContent=t[0];
    
    
  });
}
function drawColorbar(key,cb,levels,swatches){
  const segs=levels.length-1;
  const step=(cb.bottom-cb.top)/segs;
  const cx=cb.x+cb.w/2;
  const tipTop=make('path',{d:'M'+cb.x+' '+cb.top+'L'+cx+' '+cb.tipTop+'L'+(cb.x+cb.w)+' '+cb.top+'Z',fill:swatches[0],stroke:'#555',"stroke-width":1.5});
  
  
  for(let i=0;i<segs;i++){
    const seg=make('rect',{x:cb.x,y:(cb.top+i*step).toFixed(1),width:cb.w,height:(step+0.5).toFixed(1),fill:swatches[i+1]});
    
    
  }
  const tipBot=make('path',{d:'M'+cb.x+' '+cb.bottom+'L'+cx+' '+cb.tipBottom+'L'+(cb.x+cb.w)+' '+cb.bottom+'Z',fill:swatches[swatches.length-1],stroke:'#555',"stroke-width":1.5});
  
  
  const frame=make('rect',{x:cb.x,y:cb.top,width:cb.w,height:cb.bottom-cb.top,fill:'none',stroke:'#666',"stroke-width":1.5});
  
  
  levels.forEach(function(label,i){
    const t=make('text',{x:cb.labelX,y:(cb.top+i*step+16).toFixed(1),"font-size":cb.font,fill:'#111'});
    t.textContent=label;
    
    
  });
}
function drawLineChart(key,ax,yTicks,series,legendBoxes,legendY){
  const xScale=v=>ax.x1960+(v-1960)*ax.perYear;
  const yScale=v=>ax.yBase-(v-ax.vBase)*ax.perUnit;
  const frame=make('rect',{x:ax.left,y:ax.top,width:ax.right-ax.left,height:ax.bottom-ax.top,fill:'#fff',stroke:'#777',"stroke-width":2.4});
  
  
  xTickLabels.forEach(function(v){
    const tk=make('line',{x1:xScale(v),x2:xScale(v),y1:ax.bottom,y2:ax.bottom+7,stroke:'#555',"stroke-width":1.5});
    
    
    const lab=make('text',{x:xScale(v),y:ax.bottom+38,"font-size":37,"text-anchor":'middle',fill:'#111'});
    lab.textContent=v;
    
    
  });
  yTicks.forEach(function(v){
    const tk=make('line',{x1:ax.left-7,x2:ax.left,y1:yScale(v),y2:yScale(v),stroke:'#555',"stroke-width":1.5});
    
    
    const lab=make('text',{x:ax.left-12,y:yScale(v)+13,"font-size":37,"text-anchor":'end',fill:'#111'});
    lab.textContent=v;
    
    
  });
  series.forEach(function(s,si){
    const pts=years.map((y,i)=>[xScale(y),yScale(s.values[i])]);
    const line=make('path',{d:polyline(pts,false),fill:'none',stroke:s.color,"stroke-width":s.width,"stroke-linejoin":'round'});
    
    
    pts.forEach(function(p){
      const dot=make('circle',{cx:p[0].toFixed(1),cy:p[1].toFixed(1),r:6,fill:s.color});
      
      
    });
    const lb=legendBoxes[si];
    const box=make('rect',{x:lb[0],y:legendY-24,width:lb[1]-lb[0],height:53,rx:5,fill:'#fff',stroke:'#ddd',"stroke-width":1.8});
    
    
    const kl=make('line',{x1:lb[0]+12,x2:lb[0]+77,y1:legendY,y2:legendY,stroke:s.color,"stroke-width":s.width});
    
    
    const kd=make('circle',{cx:lb[0]+44.5,cy:legendY,r:5.5,fill:s.color});
    
    
    const kt=make('text',{x:lb[1]-13,y:legendY+11,"font-size":31.5,"text-anchor":'end',fill:'#222'});
    kt.textContent=seriesNames[si];
    
    
  });
}

drawMap('panel-a',boxA,gridA,'#36f5ab',layersA,false,[],bordersClimatology);
drawMap('panel-b',boxB,gridB,'#ffffff',layersB,true,layersBOver,[]);
drawMap('panel-d',boxD,gridD,'#38fbab',layersD,false,[],bordersClimatology);
drawMap('panel-e',boxE,gridE,'#ffffff',[],true,layersE,[]);

drawColorbar('panel-a',{x:978,w:18,top:239,bottom:872,tipTop:206,tipBottom:904,labelX:1000,font:47},levelsA,swatchesA);
drawColorbar('panel-b',{x:2060,w:17,top:238,bottom:870.5,tipTop:205,tipBottom:903,labelX:2082,font:44},levelsB,swatchesB);
drawColorbar('panel-d',{x:978,w:18,top:1061,bottom:1694.5,tipTop:1029,tipBottom:1727,labelX:1002,font:44},levelsD,swatchesD);
drawColorbar('panel-e',{x:2050,w:18,top:1060,bottom:1693.5,tipTop:1028,tipBottom:1725.5,labelX:2073,font:43},levelsE,swatchesE);

drawLineChart('panel-c',{left:2314,right:3313,top:179,bottom:886,x1960:2343.8,perYear:15.41,yBase:871.3,vBase:100,perUnit:6.923},rxTickLabels,[
 {values:rxNorthwest,color:'#fb4f8a',width:2.5},
 {values:rxNortheast,color:'#009426',width:3},
 {values:rxSouth,color:'#000000',width:2.5}
],[[2330,2638],[2693,2995],[3076,3298]],219);
drawLineChart('panel-f',{left:2295,right:3313,top:1012,bottom:1720,x1960:2326.5,perYear:15.7,yBase:1692.7,vBase:8,perUnit:113.5},sdiiTickLabels,[
 {values:sdiiNorthwest,color:'#fb4f8a',width:2.5},
 {values:sdiiNortheast,color:'#009426',width:3},
 {values:sdiiSouth,color:'#000000',width:2.5}
],[[2312,2620],[2685,2986],[3079,3299]],1052);
</script>
</body>
</html>
